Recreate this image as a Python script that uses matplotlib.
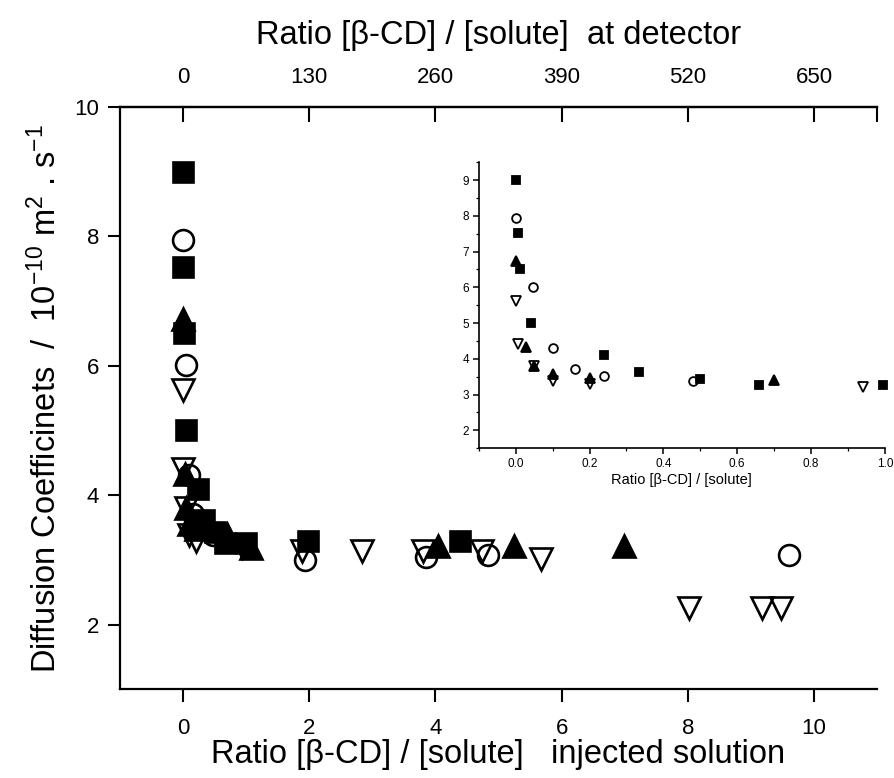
import numpy as np
import matplotlib
matplotlib.use("Agg")
import matplotlib.pyplot as plt

plt.rcParams['font.family'] = ['Liberation Sans', 'DejaVu Sans']
plt.rcParams['mathtext.fontset'] = 'custom'
plt.rcParams['mathtext.rm'] = 'Liberation Sans'
plt.rcParams['mathtext.default'] = 'regular'

# filled squares
sq_x = [0.0, 0.007, 0.012, 0.042, 0.24, 0.335, 0.50, 0.66, 0.995, 1.98, 4.39]
sq_y = [9.0, 7.53, 6.51, 5.01, 4.10, 3.62, 3.43, 3.26, 3.26, 3.29, 3.29]

# open circles
ci_x = [0.0, 0.048, 0.10, 0.16, 0.24, 0.48, 1.93, 3.85, 4.83, 9.6]
ci_y = [7.95, 6.01, 4.31, 3.71, 3.52, 3.38, 3.0, 3.05, 3.08, 3.08]

# filled up triangles
tu_x = [0.0, 0.027, 0.05, 0.10, 0.20, 0.70, 1.08, 4.04, 5.25, 6.99]
tu_y = [6.73, 4.33, 3.80, 3.56, 3.47, 3.40, 3.18, 3.21, 3.21, 3.21]

# open down triangles
td_x = [0.0, 0.007, 0.05, 0.10, 0.20, 0.94, 1.89, 2.83, 3.81, 4.74, 5.68, 8.02, 9.17, 9.47]
td_y = [5.62, 4.40, 3.80, 3.38, 3.29, 3.20, 3.13, 3.13, 3.13, 3.13, 3.02, 2.25, 2.25, 2.25]

bottom_ticks = [0, 2, 4, 6, 8, 10]
top_ticks = [0, 130, 260, 390, 520, 650]
detector_factor = 65.0

fig = plt.figure(figsize=(8.95, 7.78), dpi=100)
ax = fig.add_axes([0.134, 0.114, 0.846, 0.7485])

series = [
    (sq_x, sq_y, 's', 'black', 14),
    (ci_x, ci_y, 'o', 'none', 15),
    (tu_x, tu_y, '^', 'black', 16),
    (td_x, td_y, 'v', 'none', 16),
]
for xs, ys, m, fc, ms in series:
    ax.plot(xs, ys, linestyle='none', marker=m, markersize=ms,
            markerfacecolor=fc, markeredgecolor='black', markeredgewidth=1.9,
            clip_on=False)

ax.set_xlim(-1, 11)
ax.set_ylim(1, 10)
ax.set_xticks(bottom_ticks)
ax.set_yticks([2, 4, 6, 8, 10])
ax.spines['right'].set_visible(False)
for s in ['left', 'bottom', 'top']:
    ax.spines[s].set_linewidth(1.6)
ax.tick_params(axis='both', direction='out', length=9, width=1.5, labelsize=16, pad=6)
ax.tick_params(axis='x', pad=12)

ax.set_xlabel('Ratio [β-CD] / [solute]   injected solution', fontsize=23.5, labelpad=0)
ax.set_ylabel('Diffusion Coefficinets  /  10$^{-10}$ m$^{2}$ . s$^{-1}$', fontsize=23.5, labelpad=8)

sec = ax.secondary_xaxis('top', functions=(lambda x: x * detector_factor,
                                           lambda x: x / detector_factor))
sec.set_xticks(top_ticks + [11 * detector_factor], [str(t) for t in top_ticks] + [''])
sec.tick_params(direction='in', length=11, width=1.5, labelsize=16, pad=14)
sec.spines['top'].set_linewidth(1.6)
sec.set_xlabel('Ratio [β-CD] / [solute]  at detector', fontsize=23.5, labelpad=16)

# inset
ins = fig.add_axes([0.535, 0.424, 0.4536, 0.3676])
for xs, ys, m, fc, ms in series:
    xs = np.array(xs)
    ys = np.array(ys)
    keep = xs <= 1.0
    ins.plot(xs[keep], ys[keep], linestyle='none', marker=m, markersize=ms * 0.42,
             markerfacecolor=fc, markeredgecolor='black', markeredgewidth=1.3,
             clip_on=False)
ins.set_xlim(-0.1, 1.0)
ins.set_ylim(1.5, 9.5)
ins.set_xticks([0.0, 0.2, 0.4, 0.6, 0.8, 1.0])
ins.set_xticks(np.arange(-0.1, 1.01, 0.1), minor=True)
ins.set_yticks(range(2, 10))
ins.set_yticks(np.arange(1.5, 9.51, 0.5), minor=True)
ins.set_xticklabels(['0.0', '0.2', '0.4', '0.6', '0.8', '1.0'])
ins.spines['right'].set_visible(False)
ins.spines['top'].set_visible(False)
ins.spines['left'].set_linewidth(1.2)
ins.spines['bottom'].set_linewidth(1.2)
ins.patch.set_alpha(0)
ins.tick_params(which='major', direction='out', length=4, width=1.1, labelsize=8.5, pad=3)
ins.tick_params(which='minor', direction='out', length=2, width=0.9)
ins.set_xlabel('Ratio [β-CD] / [solute]', fontsize=10.5, labelpad=2)

fig.savefig('out.png', dpi=100)
